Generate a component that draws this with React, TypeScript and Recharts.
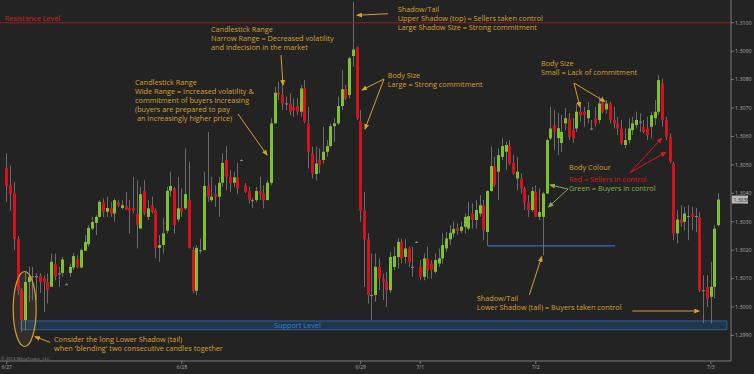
import React from 'react';
import { ComposedChart, Bar, XAxis, YAxis, ReferenceLine, ReferenceArea } from 'recharts';

// 30-minute candles (EUR-style quote)
const opens = [
  1.30488, 1.30428, 1.30399, 1.30239, 1.30059, 1.29954, 1.30088, 1.30108, 1.30108, 1.30110, 1.30101, 1.30088,
  1.30071, 1.30151, 1.30118, 1.30120, 1.30080, 1.30120, 1.30139, 1.30168, 1.30139, 1.30198, 1.30221, 1.30276,
  1.30296, 1.30317, 1.30368, 1.30335, 1.30347, 1.30329, 1.30368, 1.30348, 1.30355, 1.30348, 1.30348, 1.30327,
  1.30276, 1.30408, 1.30317, 1.30358, 1.30339, 1.30208, 1.30218, 1.30268, 1.30409, 1.30417, 1.30308, 1.30348,
  1.30347, 1.30376, 1.30200, 1.30057, 1.30200, 1.30200, 1.30426, 1.30376, 1.30397, 1.30388, 1.30437, 1.30517,
  1.30458, 1.30437, 1.30456, 1.30517, 1.30428, 1.30408, 1.30376, 1.30376, 1.30408, 1.30399, 1.30376, 1.30437,
  1.30646, 1.30754, 1.30746, 1.30716, 1.30716, 1.30702, 1.30707, 1.30687, 1.30769, 1.30646, 1.30540, 1.30468,
  1.30517, 1.30517, 1.30546, 1.30566, 1.30636, 1.30646, 1.30707, 1.30766, 1.30746, 1.30883, 1.30913, 1.30655,
  1.30338, 1.30238, 1.30042, 1.30042, 1.30141, 1.30100, 1.30088, 1.30059, 1.30141, 1.30176, 1.30229, 1.30176,
  1.30206, 1.30141, 1.30229, 1.30141, 1.30106, 1.30171, 1.30153, 1.30124, 1.30153, 1.30171, 1.30206, 1.30238,
  1.30259, 1.30278, 1.30268, 1.30282, 1.30276, 1.30329, 1.30306, 1.30329, 1.30358, 1.30264, 1.30408, 1.30496,
  1.30476, 1.30528, 1.30546, 1.30566, 1.30507, 1.30452, 1.30452, 1.30417, 1.30367, 1.30341, 1.30405, 1.30317,
  1.30317, 1.30399, 1.30593, 1.30640, 1.30594, 1.30577, 1.30646, 1.30664, 1.30622, 1.30628, 1.30687, 1.30687,
  1.30664, 1.30628, 1.30664, 1.30658, 1.30719, 1.30695, 1.30716, 1.30658, 1.30646, 1.30628, 1.30570, 1.30587,
  1.30622, 1.30640, 1.30652, 1.30634, 1.30628, 1.30634, 1.30664, 1.30687, 1.30787, 1.30658, 1.30599, 1.30505,
  1.30259, 1.30308, 1.30300, 1.30320, 1.30329, 1.30320, 1.30317, 1.30059, 1.30071, 1.30036, 1.30071, 1.30288,
];

const highs = [
  1.30540, 1.30497, 1.30440, 1.30249, 1.30066, 1.30124, 1.30141, 1.30141, 1.30119, 1.30119, 1.30112, 1.30118,
  1.30188, 1.30188, 1.30141, 1.30176, 1.30084, 1.30153, 1.30190, 1.30182, 1.30206, 1.30253, 1.30288, 1.30317,
  1.30323, 1.30376, 1.30382, 1.30388, 1.30370, 1.30382, 1.30376, 1.30376, 1.30405, 1.30376, 1.30458, 1.30446,
  1.30423, 1.30446, 1.30376, 1.30388, 1.30347, 1.30253, 1.30312, 1.30423, 1.30476, 1.30423, 1.30458, 1.30417,
  1.30558, 1.30511, 1.30212, 1.30218, 1.30241, 1.30476, 1.30616, 1.30458, 1.30428, 1.30458, 1.30540, 1.30566,
  1.30482, 1.30476, 1.30507, 1.30520, 1.30436, 1.30423, 1.30383, 1.30423, 1.30458, 1.30428, 1.30446, 1.30664,
  1.30775, 1.30792, 1.30781, 1.30740, 1.30752, 1.30734, 1.30734, 1.30781, 1.30798, 1.30704, 1.30564, 1.30564,
  1.30558, 1.30634, 1.30587, 1.30646, 1.30664, 1.30740, 1.30834, 1.30781, 1.30880, 1.31074, 1.30916, 1.30693,
  1.30405, 1.30259, 1.30188, 1.30188, 1.30171, 1.30118, 1.30124, 1.30194, 1.30212, 1.30241, 1.30241, 1.30238,
  1.30212, 1.30212, 1.30232, 1.30165, 1.30188, 1.30212, 1.30165, 1.30188, 1.30206, 1.30259, 1.30264, 1.30288,
  1.30300, 1.30294, 1.30300, 1.30329, 1.30370, 1.30364, 1.30376, 1.30394, 1.30376, 1.30411, 1.30564, 1.30528,
  1.30558, 1.30593, 1.30581, 1.30587, 1.30534, 1.30528, 1.30470, 1.30423, 1.30394, 1.30423, 1.30428, 1.30417,
  1.30405, 1.30593, 1.30704, 1.30693, 1.30682, 1.30675, 1.30700, 1.30682, 1.30665, 1.30716, 1.30704, 1.30704,
  1.30722, 1.30658, 1.30704, 1.30740, 1.30740, 1.30728, 1.30722, 1.30704, 1.30669, 1.30658, 1.30628, 1.30664,
  1.30669, 1.30687, 1.30681, 1.30658, 1.30669, 1.30687, 1.30728, 1.30816, 1.30804, 1.30669, 1.30611, 1.30511,
  1.30341, 1.30358, 1.30352, 1.30358, 1.30352, 1.30348, 1.30335, 1.30112, 1.30112, 1.30159, 1.30288, 1.30400,
];

const lows = [
  1.30370, 1.30339, 1.30200, 1.30042, 1.29911, 1.29918, 1.30018, 1.30024, 1.30024, 1.30049, 1.29983, 1.30012,
  1.30071, 1.30094, 1.30071, 1.30106, 1.30077, 1.30106, 1.30130, 1.30136, 1.30136, 1.30198, 1.30212, 1.30270,
  1.30253, 1.30315, 1.30317, 1.30317, 1.30317, 1.30300, 1.30352, 1.30343, 1.30341, 1.30259, 1.30329, 1.30206,
  1.30276, 1.30323, 1.30306, 1.30329, 1.30171, 1.30159, 1.30188, 1.30259, 1.30388, 1.30259, 1.30300, 1.30317,
  1.30341, 1.30206, 1.30048, 1.30042, 1.30188, 1.30200, 1.30370, 1.30370, 1.30352, 1.30317, 1.30423, 1.30411,
  1.30405, 1.30423, 1.30397, 1.30513, 1.30401, 1.30364, 1.30348, 1.30370, 1.30376, 1.30347, 1.30376, 1.30428,
  1.30646, 1.30728, 1.30693, 1.30693, 1.30675, 1.30669, 1.30675, 1.30669, 1.30646, 1.30488, 1.30452, 1.30446,
  1.30470, 1.30505, 1.30528, 1.30564, 1.30581, 1.30640, 1.30693, 1.30728, 1.30734, 1.30845, 1.30658, 1.30300,
  1.30071, 1.30012, 1.29954, 1.30018, 1.30059, 1.30024, 1.30000, 1.30050, 1.30130, 1.30136, 1.30153, 1.30153,
  1.30141, 1.30106, 1.30227, 1.30094, 1.30094, 1.30100, 1.30100, 1.30118, 1.30141, 1.30153, 1.30194, 1.30218,
  1.30245, 1.30253, 1.30259, 1.30259, 1.30270, 1.30276, 1.30276, 1.30317, 1.30235, 1.30214, 1.30405, 1.30423,
  1.30376, 1.30517, 1.30482, 1.30499, 1.30464, 1.30411, 1.30399, 1.30341, 1.30317, 1.30335, 1.30317, 1.30306,
  1.30182, 1.30399, 1.30587, 1.30552, 1.30534, 1.30545, 1.30622, 1.30587, 1.30577, 1.30616, 1.30652, 1.30634,
  1.30646, 1.30622, 1.30634, 1.30646, 1.30681, 1.30681, 1.30646, 1.30628, 1.30605, 1.30570, 1.30558, 1.30576,
  1.30605, 1.30628, 1.30616, 1.30611, 1.30587, 1.30593, 1.30640, 1.30675, 1.30634, 1.30587, 1.30505, 1.30235,
  1.30224, 1.30282, 1.30270, 1.30235, 1.30270, 1.30263, 1.30053, 1.29943, 1.30000, 1.29942, 1.30030, 1.30282,
];

const closes = [
  1.30426, 1.30397, 1.30239, 1.30059, 1.29954, 1.30088, 1.30106, 1.30108, 1.30108, 1.30088, 1.30088, 1.30059,
  1.30159, 1.30108, 1.30118, 1.30167, 1.30080, 1.30141, 1.30179, 1.30141, 1.30200, 1.30229, 1.30278, 1.30299,
  1.30317, 1.30370, 1.30335, 1.30348, 1.30329, 1.30376, 1.30358, 1.30358, 1.30343, 1.30339, 1.30339, 1.30288,
  1.30397, 1.30329, 1.30347, 1.30335, 1.30208, 1.30218, 1.30259, 1.30409, 1.30426, 1.30288, 1.30347, 1.30335,
  1.30397, 1.30208, 1.30057, 1.30208, 1.30200, 1.30426, 1.30388, 1.30388, 1.30388, 1.30437, 1.30507, 1.30458,
  1.30435, 1.30456, 1.30417, 1.30517, 1.30405, 1.30376, 1.30376, 1.30408, 1.30396, 1.30376, 1.30437, 1.30646,
  1.30754, 1.30746, 1.30716, 1.30716, 1.30687, 1.30693, 1.30687, 1.30769, 1.30652, 1.30546, 1.30470, 1.30505,
  1.30499, 1.30546, 1.30566, 1.30636, 1.30646, 1.30707, 1.30766, 1.30734, 1.30875, 1.30906, 1.30664, 1.30338,
  1.30238, 1.30042, 1.30042, 1.30141, 1.30100, 1.30088, 1.30059, 1.30176, 1.30179, 1.30229, 1.30171, 1.30206,
  1.30159, 1.30141, 1.30229, 1.30106, 1.30171, 1.30130, 1.30130, 1.30165, 1.30171, 1.30218, 1.30241, 1.30261,
  1.30275, 1.30267, 1.30282, 1.30317, 1.30320, 1.30306, 1.30341, 1.30358, 1.30270, 1.30408, 1.30496, 1.30428,
  1.30534, 1.30566, 1.30570, 1.30505, 1.30470, 1.30476, 1.30417, 1.30367, 1.30341, 1.30408, 1.30317, 1.30334,
  1.30399, 1.30587, 1.30628, 1.30615, 1.30629, 1.30616, 1.30664, 1.30599, 1.30593, 1.30687, 1.30675, 1.30675,
  1.30693, 1.30628, 1.30646, 1.30716, 1.30687, 1.30716, 1.30658, 1.30646, 1.30628, 1.30576, 1.30587, 1.30628,
  1.30646, 1.30658, 1.30652, 1.30616, 1.30605, 1.30675, 1.30687, 1.30798, 1.30658, 1.30599, 1.30511, 1.30259,
  1.30308, 1.30294, 1.30329, 1.30320, 1.30317, 1.30320, 1.30059, 1.30059, 1.30030, 1.30071, 1.30276, 1.30378,
];

const dateTickIndex = [0, 47, 95, 111, 142, 189];
const dateTickLabels = ['6/27', '6/28', '6/29', '7/1', '7/2', '7/3'];
const priceTicks = [1.299, 1.3, 1.301, 1.302, 1.303, 1.304, 1.305, 1.306, 1.307, 1.308, 1.309, 1.31];

const resistanceLevel = 1.31;
const supportLow = 1.2992;
const supportHigh = 1.29951;
const tailLevel = 1.30215;

const data = opens.map((o, i) => ({ i, open: o, high: highs[i], low: lows[i], close: closes[i] }));
const lastClose = closes[closes.length - 1];

const BG = '#232323';
const GREEN = '#7cc22a';
const RED = '#d3121b';
const WICK = '#6b6b6b';
const ORANGE = '#d6a02a';
const AXIS = '#7a7a7a';
const FONT = '"Open Sans", "DejaVu Sans", sans-serif';

const Candle = (props: any) => {
  const { x, y, width, height, payload } = props;
  if (x == null || y == null || !payload) return null;
  const top = Math.min(y, y + height);
  const bot = Math.max(y, y + height);
  const { open, close, high, low } = payload;
  const span = high - low;
  const pix = (v: number) => (span === 0 ? top : top + ((high - v) / span) * (bot - top));
  const cx = Math.round(x + width / 2) + 0.5;
  const bTop = pix(Math.max(open, close));
  const bBot = pix(Math.min(open, close));
  const color = close > open ? GREEN : close < open ? RED : '#8a8a8a';
  return (
    <g>
      <line x1={cx} x2={cx} y1={top} y2={Math.max(bot, top + 1)} stroke={WICK} strokeWidth={1} />
      <rect x={cx - 1.5} y={bTop} width={3} height={Math.max(1, bBot - bTop)} fill={color} />
    </g>
  );
};

const PriceTag = (props: any) => {
  const vb = props.viewBox;
  if (!vb) return null;
  const x = vb.x + vb.width;
  const y = vb.y;
  return (
    <g>
      <rect x={x + 1} y={y - 4} width={16} height={8} fill="#b9b9b9" />
      <text x={x + 2.5} y={y + 2} fontSize={5} fill="#2a2a2a" fontFamily={FONT}>
        {lastClose.toFixed(4)}
      </text>
    </g>
  );
};

const Block = ({ x, y, lines, fill = ORANGE, lh = 9.1, size = 7.3 }: any) => (
  <text x={x} y={y} fill={fill} fontSize={size} fontFamily={FONT}>
    {lines.map((l: string, k: number) => (
      <tspan key={k} x={x} dy={k === 0 ? 0 : lh} xmlSpace="preserve">
        {l}
      </tspan>
    ))}
  </text>
);

const Arrow = ({ x1, y1, x2, y2, color = ORANGE, id = 'ah-o' }: any) => (
  <line x1={x1} y1={y1} x2={x2} y2={y2} stroke={color} strokeWidth={1} markerEnd={`url(#${id})`} />
);

const Overlay = () => (
  <svg width={754} height={374} style={{ position: 'absolute', left: 0, top: 0, pointerEvents: 'none' }}>
    <defs>
      {[
        ['ah-o', ORANGE],
        ['ah-r', '#d8191f'],
        ['ah-g', '#86b04c'],
      ].map(([id, c]) => (
        <marker key={id} id={id} markerWidth={6} markerHeight={5} refX={5} refY={2.5} orient="auto" markerUnits="userSpaceOnUse">
          <path d="M0,0 L6,2.5 L0,5 z" fill={c} />
        </marker>
      ))}
    </defs>
    <text x={4.7} y={20.5} fill="#d42020" fontSize={7.3} fontFamily={FONT}>Resistance Level</text>
    <text x={274} y={328} fill="#2f7fd6" fontSize={7.3} fontFamily={FONT}>Support Level</text>
    <text x={1} y={359.5} fill="#8a8a8a" fontSize={4.3} fontFamily={FONT}>© 2013 NinjaTrader, LLC</text>

    <Block x={135} y={84.5} lines={['Candlestick Range', 'Wide Range = Increased volatility &', 'commitment of buyers increasing', '(buyers are prepared to pay', ' an increasingly higher price)']} />
    <Block x={211} y={31.5} lines={['Candlestick Range', 'Narrow Range = Decreased volatility', 'and indecision in the market']} />
    <Block x={397.7} y={12} lines={['Shadow/Tail', 'Upper Shadow (top) = Sellers taken control', 'Large Shadow Size = Strong commitment']} />
    <Block x={387.7} y={77.5} lines={['Body Size', 'Large = Strong commitment']} />
    <Block x={541} y={66.3} lines={['Body Size', 'Small = Lack of commitment']} />
    <Block x={569} y={170.3} lines={['Body Colour']} />
    <Block x={569} y={182.3} fill="#d8191f" lines={['Red = Sellers in control']} />
    <Block x={569} y={191.3} fill="#86b04c" lines={['Green = Buyers in control']} />
    <Block x={476.7} y={300.5} lines={['Shadow/Tail', 'Lower Shadow (tail) = Buyers taken control']} />
    <Block x={54} y={342} lines={['Consider the long Lower Shadow (tail)', "when 'blending' two consecutive candles together"]} />

    <Arrow x1={238} y1={114} x2={267} y2={155} />
    <Arrow x1={281} y1={55} x2={283} y2={85} />
    <Arrow x1={388} y1={13.7} x2={357} y2={15.3} />
    <Arrow x1={384} y1={79} x2={362} y2={90} />
    <Arrow x1={384} y1={79} x2={365} y2={129} />
    <Arrow x1={574} y1={83} x2={580} y2={107} />
    <Arrow x1={574} y1={83} x2={605} y2={101.7} />
    <Arrow x1={630} y1={172.7} x2={661.7} y2={138.3} color="#d8191f" id="ah-r" />
    <Arrow x1={630} y1={172.7} x2={665.7} y2={152.3} color="#d8191f" id="ah-r" />
    <Arrow x1={568} y1={189} x2={550} y2={185} color="#86b04c" id="ah-g" />
    <Arrow x1={568} y1={189} x2={548.5} y2={207} color="#86b04c" id="ah-g" />
    <Arrow x1={529.3} y1={295} x2={541.7} y2={256.7} />
    <Arrow x1={632.3} y1={311} x2={699.3} y2={311} />
    <Arrow x1={50} y1={342.3} x2={35} y2={336.7} />
    <ellipse cx={24.7} cy={309} rx={11.5} ry={37.5} fill="rgba(230,180,110,0.08)" stroke={ORANGE} strokeWidth={1.2} />
  </svg>
);

export default function App() {
  return (
    <div style={{ position: 'absolute', left: 0, top: 0, width: 754, height: 374, background: BG, fontFamily: FONT }}>
      <ComposedChart width={754} height={374} data={data} margin={{ top: 0, right: 0, bottom: 0, left: 0 }}>
        <XAxis
          type="number"
          dataKey="i"
          domain={[-1.8, 194.4]}
          allowDataOverflow
          ticks={dateTickIndex}
          tickFormatter={(v: number) => dateTickLabels[dateTickIndex.indexOf(v)] ?? ''}
          height={13}
          tickSize={3}
          tickMargin={1}
          axisLine={{ stroke: AXIS }}
          tickLine={{ stroke: AXIS }}
          tick={{ fill: '#a8a8a8', fontSize: 5 }}
        />
        <YAxis
          orientation="right"
          type="number"
          domain={[1.2981, 1.3108]}
          allowDataOverflow
          ticks={priceTicks}
          tickFormatter={(v: number) => v.toFixed(4)}
          width={23}
          tickSize={3}
          tickMargin={1}
          axisLine={{ stroke: AXIS }}
          tickLine={{ stroke: AXIS }}
          tick={{ fill: '#a8a8a8', fontSize: 5.3 }}
        />
        <ReferenceArea
          x1={3.84}
          x2={193.3}
          y1={supportLow}
          y2={supportHigh}
          fill="#1f3a55"
          fillOpacity={0.85}
          stroke="#2c5f93"
          strokeWidth={1}
          ifOverflow="visible"
        />
        <ReferenceLine y={resistanceLevel} stroke="#a8161a" strokeWidth={1} />
        <ReferenceLine segment={[{ x: 129.2, y: tailLevel }, { x: 163.3, y: tailLevel }]} stroke="#2c73c4" strokeWidth={1.3} />
        <Bar dataKey={(d: any) => [d.low, d.high]} shape={Candle} barSize={3} isAnimationActive={false} />
        <ReferenceLine y={lastClose} stroke="none" strokeOpacity={0} label={<PriceTag />} ifOverflow="visible" />
      </ComposedChart>
      <Overlay />
    </div>
  );
}
